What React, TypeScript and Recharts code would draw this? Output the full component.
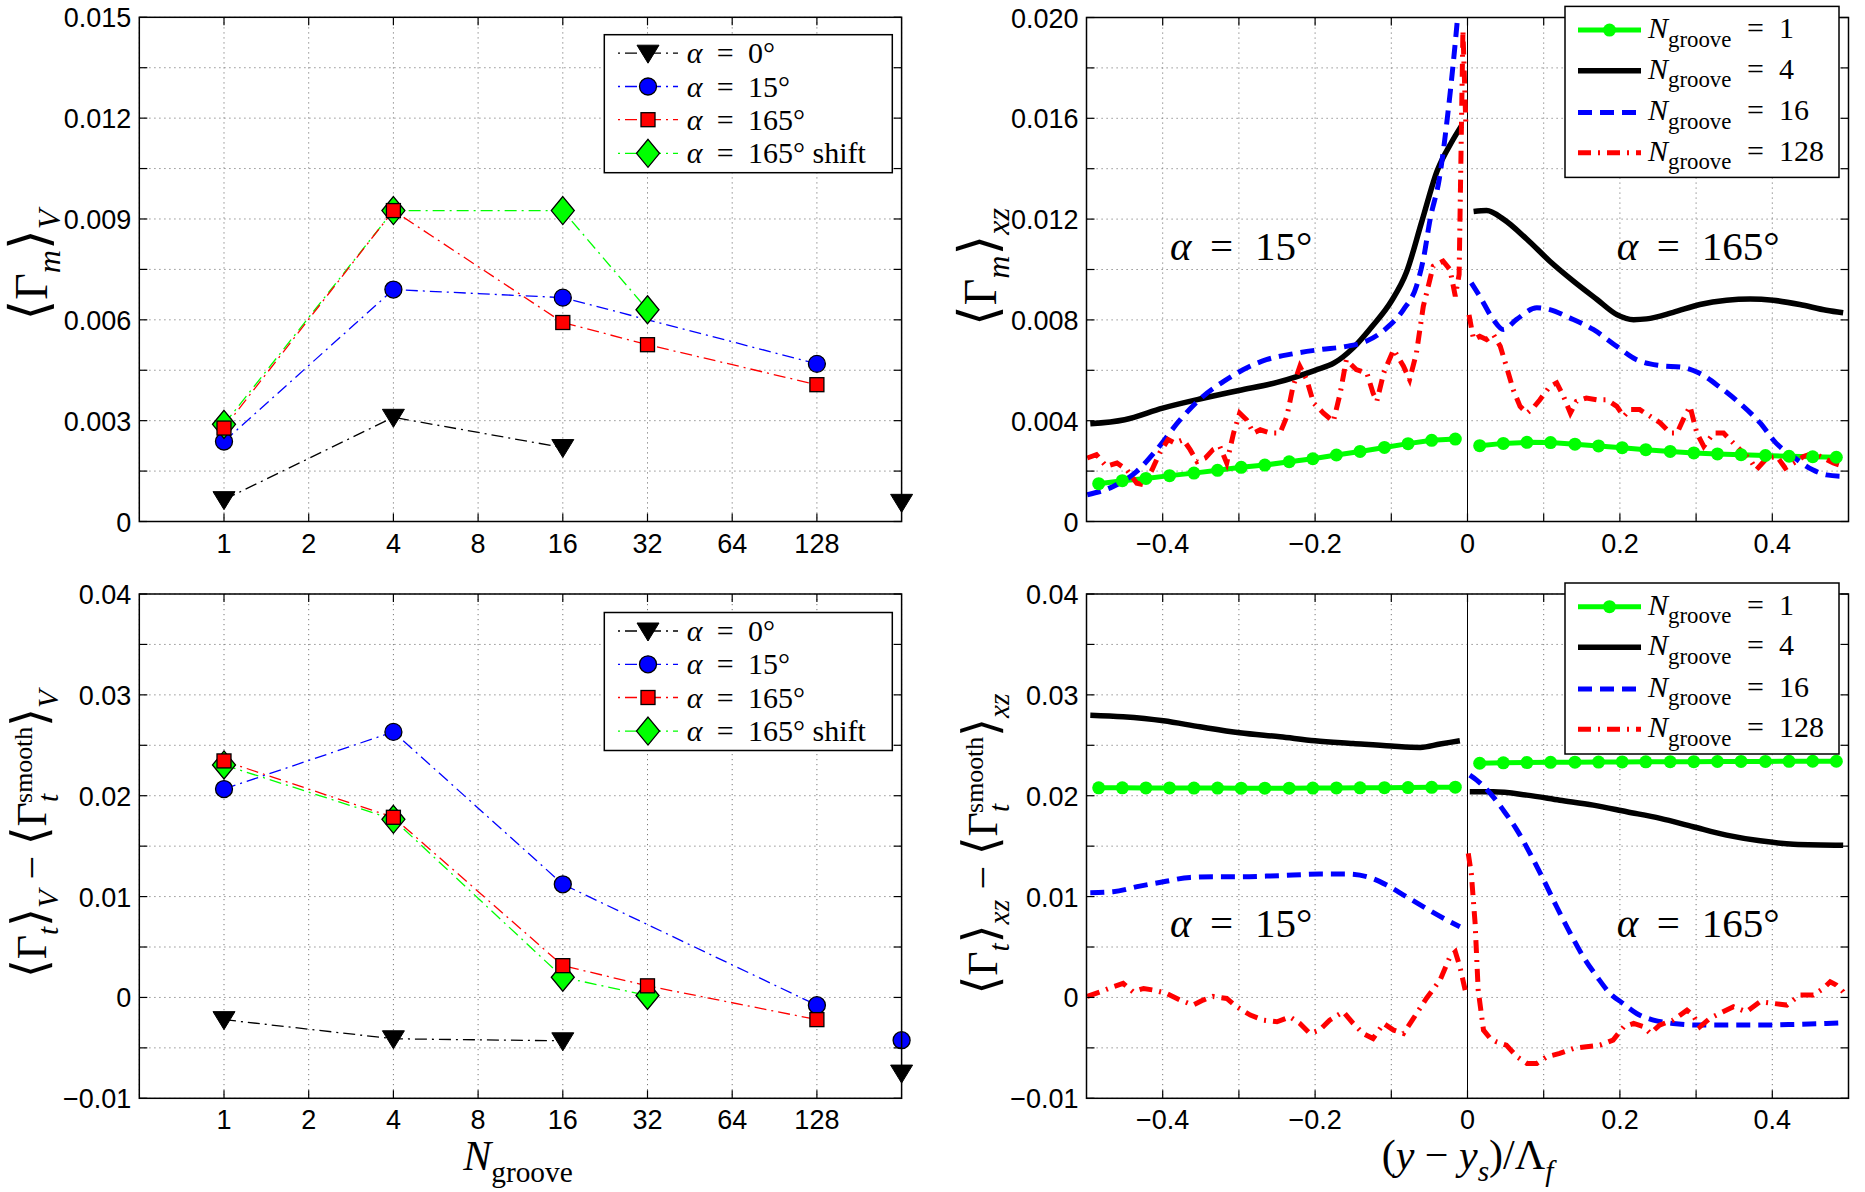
import React from 'react';
import { LineChart, Line, XAxis, YAxis, CartesianGrid, ReferenceLine } from 'recharts';

const SERIF = '"Liberation Serif", "Times New Roman", "DejaVu Serif", "DejaVu Sans", serif';
const SANS = '"Liberation Sans", Arial, Helvetica, sans-serif';

// ---------- left column: averages over the volume against N_groove
const grooveTicks = [1, 2, 4, 8, 16, 32, 64, 128];
const grooveTickLabels = ['1', '2', '4', '8', '16', '32', '64', '128'];

// <Gamma_m>_V
const mvN0 = [1, 4, 16, 64, 256];
const mvA0 = [0.00065, 0.0031, 0.0022, null, 0.00057];
const mvN15 = [1, 4, 16, 128];
const mvA15 = [0.00238, 0.0069, 0.00666, 0.00469];
const mvN165 = [1, 4, 16, 32, 128];
const mvA165 = [0.00278, 0.00925, 0.00592, 0.00526, 0.00407];
const mvNshift = [1, 4, 16, 32];
const mvAshift = [0.00289, 0.00925, 0.00925, 0.0063];

// <Gamma_t>_V - <Gamma_t^smooth>_V
const tvN0 = [1, 4, 16, 64, 256];
const tvA0 = [-0.0022, -0.0041, -0.0043, null, -0.0075];
const tvN15 = [1, 4, 16, 128, 192, 256];
const tvA15 = [0.02066, 0.02633, 0.01122, -0.00077, null, -0.00424];
const tvN165 = [1, 4, 16, 32, 128];
const tvA165 = [0.02345, 0.01786, 0.00315, 0.00115, -0.0022];
const tvNshift = [1, 4, 16, 32];
const tvAshift = [0.02305, 0.01766, 0.002, 0.00019];

const mvYTicks = [0, 0.0015, 0.003, 0.0045, 0.006, 0.0075, 0.009, 0.0105, 0.012, 0.0135, 0.015];
const mvYLabels = ['0', '', '0.003', '', '0.006', '', '0.009', '', '0.012', '', '0.015'];
const tYTicks = [-0.01, -0.005, 0, 0.005, 0.01, 0.015, 0.02, 0.025, 0.03, 0.035, 0.04];
const tYLabels = ['\u22120.01', '', '0', '', '0.01', '', '0.02', '', '0.03', '', '0.04'];

// ---------- right column: profiles across the span, (y - y_s)/Lambda_f
const posTicks = [-0.4, -0.3, -0.2, -0.1, 0, 0.1, 0.2, 0.3, 0.4];
const posLabels = ['\u22120.4', '', '\u22120.2', '', '0', '', '0.2', '', '0.4'];
const mxzYTicks = [0, 0.002, 0.004, 0.006, 0.008, 0.01, 0.012, 0.014, 0.016, 0.018, 0.02];
const mxzYLabels = ['0', '', '0.004', '', '0.008', '', '0.012', '', '0.016', '', '0.020'];

const n1XL = [-0.484, -0.453, -0.422, -0.391, -0.359, -0.328, -0.297, -0.266, -0.234, -0.203, -0.172, -0.141, -0.109, -0.078, -0.047, -0.016];
const n1XR = [0.016, 0.047, 0.078, 0.109, 0.141, 0.172, 0.203, 0.234, 0.266, 0.297, 0.328, 0.359, 0.391, 0.422, 0.453, 0.484];

// <Gamma_m>_xz
const mxzN1L = [0.0015, 0.00162, 0.00171, 0.00182, 0.00192, 0.00203, 0.00215, 0.00224, 0.00237, 0.00249, 0.00264, 0.00278, 0.00294, 0.00309, 0.00322, 0.00327];
const mxzN1R = [0.00301, 0.0031, 0.00314, 0.00313, 0.00307, 0.003, 0.00293, 0.00285, 0.00278, 0.00272, 0.00268, 0.00265, 0.00262, 0.00259, 0.00257, 0.00255];

const mxzN4XL = [-0.495, -0.45, -0.4, -0.35, -0.3, -0.25, -0.2, -0.175, -0.15, -0.125, -0.1, -0.08, -0.06, -0.04, -0.02, -0.008];
const mxzN4L = [0.00388, 0.00404, 0.0045, 0.00487, 0.0052, 0.00552, 0.006, 0.00629, 0.00689, 0.00775, 0.00874, 0.0099, 0.0119, 0.0139, 0.0151, 0.0157];
const mxzN4XR = [0.008, 0.025, 0.047, 0.078, 0.108, 0.139, 0.17, 0.196, 0.218, 0.235, 0.27, 0.305, 0.34, 0.371, 0.401, 0.436, 0.471, 0.493];
const mxzN4R = [0.0123, 0.01234, 0.012, 0.0112, 0.01033, 0.00954, 0.00881, 0.00821, 0.00801, 0.00804, 0.0083, 0.00861, 0.00878, 0.00883, 0.00878, 0.00861, 0.00838, 0.00828];

const mxzN16XL = [-0.499, -0.465, -0.434, -0.408, -0.377, -0.347, -0.32, -0.294, -0.264, -0.228, -0.194, -0.159, -0.133, -0.106, -0.084, -0.067, -0.058, -0.049, -0.037, -0.025, -0.013, -0.006];
const mxzN16L = [0.00106, 0.00139, 0.00199, 0.00285, 0.00404, 0.00497, 0.00556, 0.00603, 0.00642, 0.00666, 0.00682, 0.00695, 0.00715, 0.00768, 0.00841, 0.00934, 0.0104, 0.012, 0.0136, 0.0164, 0.02, 0.0225];
const mxzN16XR = [0.005, 0.016, 0.034, 0.047, 0.064, 0.091, 0.108, 0.134, 0.165, 0.196, 0.222, 0.252, 0.282, 0.304, 0.33, 0.357, 0.384, 0.405, 0.427, 0.453, 0.471, 0.493];
const mxzN16R = [0.00947, 0.00894, 0.00801, 0.00762, 0.00801, 0.00848, 0.00841, 0.00808, 0.00762, 0.00695, 0.00642, 0.00619, 0.00612, 0.00589, 0.00536, 0.0047, 0.00391, 0.00311, 0.00258, 0.00205, 0.00185, 0.00179];

const mxzN128XL = [-0.499, -0.487, -0.474, -0.46, -0.447, -0.434, -0.425, -0.414, -0.404, -0.393, -0.384, -0.373, -0.364, -0.355, -0.344, -0.334, -0.325, -0.316, -0.307, -0.299, -0.29, -0.281, -0.272, -0.259, -0.246, -0.237, -0.229, -0.22, -0.211, -0.202, -0.189, -0.176, -0.167, -0.159, -0.146, -0.132, -0.124, -0.119, -0.11, -0.097, -0.084, -0.076, -0.067, -0.058, -0.045, -0.032, -0.023, -0.016, -0.011, -0.006, -0.002];
const mxzN128L = [0.00252, 0.00265, 0.00219, 0.00232, 0.00205, 0.00152, 0.00146, 0.00205, 0.00272, 0.00325, 0.00311, 0.00325, 0.00285, 0.00238, 0.00252, 0.00285, 0.00298, 0.00232, 0.00351, 0.0043, 0.00404, 0.00351, 0.00364, 0.00351, 0.00351, 0.00417, 0.00536, 0.00616, 0.00563, 0.0047, 0.0043, 0.00397, 0.0051, 0.00642, 0.00603, 0.00589, 0.0051, 0.00477, 0.00589, 0.00682, 0.00616, 0.00563, 0.00669, 0.00854, 0.01013, 0.01033, 0.01, 0.00894, 0.0098, 0.0195, 0.0156];
const mxzN128XR = [0.002, 0.008, 0.016, 0.025, 0.034, 0.043, 0.051, 0.06, 0.069, 0.078, 0.086, 0.095, 0.108, 0.117, 0.126, 0.135, 0.143, 0.156, 0.17, 0.183, 0.196, 0.205, 0.213, 0.226, 0.24, 0.253, 0.266, 0.275, 0.283, 0.292, 0.301, 0.31, 0.323, 0.336, 0.349, 0.362, 0.371, 0.379, 0.393, 0.406, 0.417, 0.428, 0.441, 0.454, 0.467, 0.48, 0.493];
const mxzN128R = [0.0082, 0.00722, 0.00735, 0.00722, 0.00742, 0.00695, 0.00616, 0.00523, 0.00457, 0.0043, 0.0045, 0.00483, 0.00536, 0.0055, 0.00497, 0.0043, 0.00477, 0.0049, 0.00483, 0.00483, 0.00457, 0.00417, 0.00444, 0.00444, 0.00417, 0.00391, 0.00351, 0.00351, 0.00404, 0.00457, 0.00351, 0.00298, 0.00351, 0.00351, 0.00311, 0.00272, 0.00245, 0.00205, 0.00252, 0.00258, 0.00212, 0.00232, 0.00258, 0.00272, 0.00252, 0.00232, 0.00219];

// <Gamma_t>_xz - <Gamma_t^smooth>_xz
const txzN1L = [0.02078, 0.02078, 0.02077, 0.02077, 0.02076, 0.02076, 0.02075, 0.02075, 0.02075, 0.02076, 0.02077, 0.02078, 0.0208, 0.02081, 0.02083, 0.02085];
const txzN1R = [0.02322, 0.02326, 0.02329, 0.02331, 0.02333, 0.02334, 0.02335, 0.02336, 0.02337, 0.02338, 0.02339, 0.0234, 0.0234, 0.02341, 0.02342, 0.02342];

const txzN4XL = [-0.495, -0.452, -0.399, -0.351, -0.299, -0.246, -0.2, -0.15, -0.1, -0.062, -0.036, -0.01];
const txzN4L = [0.02799, 0.02783, 0.02743, 0.02683, 0.02624, 0.02584, 0.02545, 0.02518, 0.02492, 0.02479, 0.02512, 0.02545];
const txzN4XR = [0.003, 0.034, 0.078, 0.121, 0.165, 0.209, 0.253, 0.296, 0.34, 0.384, 0.428, 0.493];
const txzN4R = [0.02039, 0.02039, 0.02006, 0.01956, 0.01907, 0.01841, 0.01775, 0.01692, 0.01609, 0.01553, 0.0152, 0.0151];

const txzN16XL = [-0.495, -0.465, -0.43, -0.399, -0.364, -0.334, -0.299, -0.264, -0.229, -0.194, -0.159, -0.132, -0.106, -0.08, -0.054, -0.027, -0.01];
const txzN16L = [0.01038, 0.01048, 0.01104, 0.01147, 0.0119, 0.01197, 0.01197, 0.01203, 0.01213, 0.01223, 0.01223, 0.01197, 0.01114, 0.00998, 0.00882, 0.00767, 0.00701];
const txzN16XR = [0.003, 0.012, 0.03, 0.047, 0.065, 0.082, 0.1, 0.117, 0.135, 0.152, 0.17, 0.187, 0.204, 0.222, 0.244, 0.27, 0.305, 0.34, 0.384, 0.428, 0.471, 0.493];
const txzN16R = [0.02204, 0.02155, 0.02022, 0.01857, 0.01659, 0.01428, 0.01163, 0.00899, 0.00634, 0.00403, 0.00205, 0.0004, -0.00059, -0.00159, -0.00225, -0.00258, -0.00274, -0.00274, -0.00274, -0.00268, -0.00258, -0.00251];

const txzN128XL = [-0.499, -0.482, -0.465, -0.452, -0.439, -0.425, -0.412, -0.395, -0.377, -0.36, -0.347, -0.334, -0.316, -0.303, -0.285, -0.268, -0.25, -0.233, -0.22, -0.207, -0.194, -0.181, -0.163, -0.15, -0.137, -0.124, -0.11, -0.097, -0.084, -0.071, -0.054, -0.036, -0.023, -0.016, -0.01, -0.003];
const txzN128L = [0.0001, 0.00056, 0.00106, 0.00139, 0.00056, 0.00089, 0.00073, 0.0004, -0.00026, -0.00076, -0.00026, 0.0001, -0.0001, -0.00093, -0.00175, -0.00225, -0.00241, -0.00192, -0.00258, -0.00357, -0.00324, -0.00225, -0.00142, -0.00258, -0.00357, -0.00407, -0.00258, -0.00324, -0.00357, -0.00208, -0.0001, 0.00172, 0.00403, 0.00453, 0.00304, 0.00073];
const txzN128XR = [0.001, 0.005, 0.01, 0.014, 0.021, 0.03, 0.038, 0.051, 0.065, 0.078, 0.091, 0.104, 0.121, 0.139, 0.156, 0.174, 0.191, 0.205, 0.218, 0.231, 0.24, 0.252, 0.27, 0.288, 0.296, 0.305, 0.318, 0.331, 0.349, 0.366, 0.384, 0.401, 0.419, 0.436, 0.454, 0.467, 0.476, 0.484, 0.493, 0.497];
const txzN128R = [0.01428, 0.01229, 0.00734, 0.00073, -0.00324, -0.00407, -0.0044, -0.00473, -0.00588, -0.00654, -0.00654, -0.00588, -0.00555, -0.00506, -0.00489, -0.00473, -0.00423, -0.00291, -0.00258, -0.00291, -0.00357, -0.00274, -0.00225, -0.00126, -0.00175, -0.00291, -0.00208, -0.00159, -0.00093, -0.00142, -0.00043, -0.00059, -0.00076, 0.00023, 0.00023, 0.00089, 0.00155, 0.00122, 0.00056, 0.0001];

// ---------- styles
type MarkerKind = 'tri' | 'circle' | 'square' | 'diamond' | 'dot';
const alphaStyles: { label: string; color: string; marker: MarkerKind }[] = [
  { label: '0°', color: '#000000', marker: 'tri' },
  { label: '15°', color: '#0000ff', marker: 'circle' },
  { label: '165°', color: '#ff0000', marker: 'square' },
  { label: '165° shift', color: '#00ff00', marker: 'diamond' },
];
const grooveStyles = [
  { label: '1', color: '#00ff00', width: 5, dash: undefined, dot: true },
  { label: '4', color: '#000000', width: 5.5, dash: undefined, dot: false },
  { label: '16', color: '#0000ff', width: 5, dash: '14 8', dot: false },
  { label: '128', color: '#ff0000', width: 5, dash: '13 7 2 7', dot: false },
];
const THIN_DASHDOT = '12 5 2 5';

type Pt = { x: number; y: number | null };
const zip = (xs: number[], ys: (number | null)[]): Pt[] => xs.map((x, i) => ({ x, y: ys[i] }));
const halves = (xl: number[], yl: number[], xr: number[], yr: number[]): Pt[] => [
  ...zip(xl, yl),
  { x: 0, y: null },
  ...zip(xr, yr),
];

function Marker({ kind, cx, cy, fill }: { kind: MarkerKind; cx: number; cy: number; fill: string }) {
  switch (kind) {
    case 'tri':
      return <polygon points={`${cx - 11},${cy - 8} ${cx + 11},${cy - 8} ${cx},${cy + 10}`} fill="#000" stroke="#000" strokeWidth={1} />;
    case 'circle':
      return <circle cx={cx} cy={cy} r={8.5} fill={fill} stroke="#000" strokeWidth={1.3} />;
    case 'square':
      return <rect x={cx - 7} y={cy - 7} width={14} height={14} fill={fill} stroke="#000" strokeWidth={1.3} />;
    case 'diamond':
      return <polygon points={`${cx},${cy - 14} ${cx + 11.5},${cy} ${cx},${cy + 14} ${cx - 11.5},${cy}`} fill={fill} stroke="#000" strokeWidth={1.3} />;
    default:
      return <circle cx={cx} cy={cy} r={6.5} fill={fill} />;
  }
}

const dotFn = (kind: MarkerKind, fill: string) => (p: any) => {
  const ok = p.payload && p.payload.y != null && Number.isFinite(p.cx) && Number.isFinite(p.cy);
  if (!ok) return <g key={`e${p.index}`} />;
  return (
    <g key={`m${p.index}`}>
      <Marker kind={kind} cx={p.cx} cy={p.cy} fill={fill} />
    </g>
  );
};

const labelAt = (ticks: number[], labels: string[], v: number) => {
  const i = ticks.findIndex((t) => Math.abs(t - v) < 1e-9);
  return i >= 0 ? labels[i] : '';
};

const tickText = { fontFamily: SANS, fontSize: 27 };

const makeXTick = (ticks: number[], labels: string[], plotH: number) => (p: any) => {
  const label = labelAt(ticks, labels, p.payload.value);
  return (
    <g>
      <line x1={p.x} x2={p.x} y1={p.y} y2={p.y - 8} stroke="#000" strokeWidth={1.2} />
      <line x1={p.x} x2={p.x} y1={p.y - plotH} y2={p.y - plotH + 8} stroke="#000" strokeWidth={1.2} />
      {label ? (
        <text x={p.x} y={p.y + 31} textAnchor="middle" fill="#000" style={tickText}>
          {label}
        </text>
      ) : null}
    </g>
  );
};

const makeYTick = (ticks: number[], labels: string[], plotW: number) => (p: any) => {
  const label = labelAt(ticks, labels, p.payload.value);
  return (
    <g>
      <line x1={p.x} x2={p.x + 8} y1={p.y} y2={p.y} stroke="#000" strokeWidth={1.2} />
      <line x1={p.x + plotW} x2={p.x + plotW - 8} y1={p.y} y2={p.y} stroke="#000" strokeWidth={1.2} />
      {label ? (
        <text x={p.x - 8} y={p.y + 10} textAnchor="end" fill="#000" style={tickText}>
          {label}
        </text>
      ) : null}
    </g>
  );
};

type Series = { data: Pt[]; color: string; width: number; dash?: string; marker?: MarkerKind; fill?: string; curve?: 'linear' | 'monotone' };

function Panel(props: {
  left: number; top: number; width: number; height: number;
  margin: { top: number; right: number; bottom: number; left: number };
  logX?: boolean; xDomain: number[]; xTicks: number[]; xLabels: string[];
  yDomain: number[]; yTicks: number[]; yLabels: string[];
  series: Series[]; zeroLine?: boolean; clipY?: boolean;
}) {
  const { left, top, width, height, margin } = props;
  const plotH = height - margin.top - margin.bottom - 40;
  const plotW = width - margin.left - margin.right - 60;
  return (
    <div style={{ position: 'absolute', left, top }}>
      <LineChart width={width} height={height} margin={margin}>
        <CartesianGrid stroke="#7a7a7a" strokeWidth={1} strokeDasharray="1.2 3.8" />
        <XAxis
          dataKey="x"
          type="number"
          scale={props.logX ? 'log' : 'auto'}
          domain={props.xDomain}
          ticks={props.xTicks}
          interval={0}
          height={40}
          tickSize={0}
          tickMargin={0}
          tickLine={false}
          axisLine={false}
          tick={makeXTick(props.xTicks, props.xLabels, plotH)}
        />
        <YAxis
          type="number"
          domain={props.yDomain}
          ticks={props.yTicks}
          interval={0}
          width={60}
          tickSize={0}
          tickMargin={0}
          tickLine={false}
          axisLine={false}
          allowDataOverflow={!!props.clipY}
          tick={makeYTick(props.yTicks, props.yLabels, plotW)}
        />
        {props.zeroLine ? <ReferenceLine x={0} stroke="#000" strokeWidth={1} /> : null}
        {props.series.map((s, i) => (
          <Line
            key={i}
            data={s.data}
            dataKey="y"
            type={s.curve ?? 'linear'}
            stroke={s.color}
            strokeWidth={s.width}
            strokeDasharray={s.dash}
            dot={s.marker ? dotFn(s.marker, s.fill ?? s.color) : false}
            activeDot={false}
            connectNulls={false}
            legendType="none"
            isAnimationActive={false}
          />
        ))}
      </LineChart>
    </div>
  );
}

type Part = { t: string; it?: boolean; sub?: boolean; sup?: boolean; dx?: number; x?: number; s?: number };
function MathText({ x, y, parts, size, anchor = 'start', rotate = false, subRatio = 0.7 }: {
  x: number; y: number; parts: Part[]; size: number; anchor?: 'start' | 'middle' | 'end'; rotate?: boolean; subRatio?: number;
}) {
  let shift = 0;
  const spans = parts.map((p, i) => {
    const target = p.sub ? size * 0.28 : p.sup ? -size * 0.34 : 0;
    const dy = target - shift;
    shift = target;
    const fs = (p.sub || p.sup ? size * subRatio : size) * (p.s ?? 1);
    return (
      <tspan
        key={i}
        x={p.x}
        dx={p.x == null ? p.dx : undefined}
        dy={dy !== 0 ? dy : undefined}
        style={{ fontSize: fs, fontStyle: p.it ? 'italic' : 'normal', fontFamily: SERIF }}
      >
        {p.t}
      </tspan>
    );
  });
  return (
    <text
      x={rotate ? 0 : x}
      y={rotate ? 0 : y}
      transform={rotate ? `translate(${x},${y}) rotate(-90)` : undefined}
      textAnchor={anchor}
      fill="#000"
      style={{ whiteSpace: 'pre', fontFamily: SERIF }}
    >
      {spans}
    </text>
  );
}

function AlphaLegend({ top }: { top: number }) {
  const rows = [18.5, 51.8, 85, 118.6];
  return (
    <g>
      <rect x={604.3} y={top} width={288} height={138} fill="#fff" stroke="#000" strokeWidth={1.5} />
      {alphaStyles.map((s, i) => {
        const cy = top + rows[i];
        return (
          <g key={s.label}>
            <line x1={618} x2={678} y1={cy} y2={cy} stroke={s.color} strokeWidth={1.3} strokeDasharray={THIN_DASHDOT} strokeDashoffset={17} />
            <Marker kind={s.marker} cx={648} cy={cy} fill={s.color} />
            <MathText x={686.7} y={cy + 10} size={30} parts={[{ t: 'α', it: true }, { t: '=', x: 716.7 }, { t: s.label, x: 748 }]} />
          </g>
        );
      })}
    </g>
  );
}

function GrooveLegend({ top }: { top: number }) {
  const rows = [23.7, 64.3, 106, 146.3];
  return (
    <g>
      <rect x={1565} y={top} width={274} height={171} fill="#fff" stroke="#000" strokeWidth={1.5} />
      {grooveStyles.map((s, i) => {
        const cy = top + rows[i];
        return (
          <g key={s.label}>
            <line x1={1578} x2={1641} y1={cy} y2={cy} stroke={s.color} strokeWidth={s.width} strokeDasharray={s.dash} />
            {s.dot ? <circle cx={1609.5} cy={cy} r={6.5} fill={s.color} /> : null}
            <MathText
              x={1648}
              y={cy + 8}
              size={30}
              subRatio={0.76}
              parts={[{ t: 'N', it: true }, { t: 'groove', sub: true }, { t: '=', x: 1747 }, { t: s.label, x: 1779 }]}
            />
          </g>
        );
      })}
    </g>
  );
}

function Annotations({ base }: { base: number }) {
  return (
    <g>
      <MathText x={1170} y={base} size={41} parts={[{ t: 'α', it: true }, { t: '=', x: 1210 }, { t: '15°', x: 1255 }]} />
      <MathText x={1616.7} y={base} size={41} parts={[{ t: 'α', it: true }, { t: '=', x: 1656.7 }, { t: '165°', x: 1701.7 }]} />
    </g>
  );
}

const avgLabel = (sub: string): Part[] => [
  { t: '⟨', s: 1.15 }, { t: 'Γ' }, { t: 'm', it: true, sub: true }, { t: '⟩', s: 1.15 }, { t: sub, it: true, sub: true },
];
const diffLabel = (sub: string): Part[] => [
  { t: '⟨', s: 1.15 }, { t: 'Γ' }, { t: 't', it: true, sub: true }, { t: '⟩', s: 1.15 }, { t: sub, it: true, sub: true },
  { t: ' − ' }, { t: '⟨', s: 1.15 }, { t: 'Γ' }, { t: 't', it: true, sub: true }, { t: 'smooth', sup: true, dx: -9, s: 0.88 },
  { t: '⟩', s: 1.15 }, { t: sub, it: true, sub: true },
];

export default function App() {
  const mvSeries: Series[] = [
    { data: zip(mvN0, mvA0), color: '#000', width: 1.3, dash: THIN_DASHDOT, marker: 'tri' },
    { data: zip(mvN15, mvA15), color: '#0000ff', width: 1.3, dash: THIN_DASHDOT, marker: 'circle' },
    { data: zip(mvNshift, mvAshift), color: '#00ff00', width: 1.3, dash: THIN_DASHDOT, marker: 'diamond' },
    { data: zip(mvN165, mvA165), color: '#ff0000', width: 1.3, dash: THIN_DASHDOT, marker: 'square' },
  ];
  const tvSeries: Series[] = [
    { data: zip(tvN0, tvA0), color: '#000', width: 1.3, dash: THIN_DASHDOT, marker: 'tri' },
    { data: zip(tvN15, tvA15), color: '#0000ff', width: 1.3, dash: THIN_DASHDOT, marker: 'circle' },
    { data: zip(tvNshift, tvAshift), color: '#00ff00', width: 1.3, dash: THIN_DASHDOT, marker: 'diamond' },
    { data: zip(tvN165, tvA165), color: '#ff0000', width: 1.3, dash: THIN_DASHDOT, marker: 'square' },
  ];
  const mxzSeries: Series[] = [
    { data: halves(n1XL, mxzN1L, n1XR, mxzN1R), color: '#00ff00', width: 5, marker: 'dot' },
    { data: halves(mxzN4XL, mxzN4L, mxzN4XR, mxzN4R), color: '#000', width: 5.5, curve: 'monotone' },
    { data: halves(mxzN16XL, mxzN16L, mxzN16XR, mxzN16R), color: '#0000ff', width: 5, dash: '14 8', curve: 'monotone' },
    { data: halves(mxzN128XL, mxzN128L, mxzN128XR, mxzN128R), color: '#ff0000', width: 5, dash: '13 7 2 7' },
  ];
  const txzSeries: Series[] = [
    { data: halves(n1XL, txzN1L, n1XR, txzN1R), color: '#00ff00', width: 5, marker: 'dot' },
    { data: halves(txzN4XL, txzN4L, txzN4XR, txzN4R), color: '#000', width: 5.5, curve: 'monotone' },
    { data: halves(txzN16XL, txzN16L, txzN16XR, txzN16R), color: '#0000ff', width: 5, dash: '14 8', curve: 'monotone' },
    { data: halves(txzN128XL, txzN128L, txzN128XR, txzN128R), color: '#ff0000', width: 5, dash: '13 7 2 7' },
  ];

  const leftM = { right: 28.4, left: 79.3 };
  const rightM = { right: 16.5, left: 96.5 };

  return (
    <div style={{ position: 'absolute', left: 0, top: 0, width: 1865, height: 1192, background: '#fff', overflow: 'hidden' }}>
      <Panel left={0} top={0} width={930} height={580} margin={{ top: 17.3, bottom: 18.5, ...leftM }}
        logX xDomain={[0.5, 256]} xTicks={grooveTicks} xLabels={grooveTickLabels}
        yDomain={[0, 0.015]} yTicks={mvYTicks} yLabels={mvYLabels} series={mvSeries} />
      <Panel left={0} top={560} width={930} height={632} margin={{ top: 34, bottom: 53.7, ...leftM }}
        logX xDomain={[0.5, 256]} xTicks={grooveTicks} xLabels={grooveTickLabels}
        yDomain={[-0.01, 0.04]} yTicks={tYTicks} yLabels={tYLabels} series={tvSeries} />
      <Panel left={930} top={0} width={935} height={580} margin={{ top: 17.5, bottom: 18.5, ...rightM }}
        xDomain={[-0.5, 0.5]} xTicks={posTicks} xLabels={posLabels}
        yDomain={[0, 0.02]} yTicks={mxzYTicks} yLabels={mxzYLabels} series={mxzSeries} zeroLine clipY />
      <Panel left={930} top={560} width={935} height={632} margin={{ top: 34, bottom: 53.7, ...rightM }}
        xDomain={[-0.5, 0.5]} xTicks={posTicks} xLabels={posLabels}
        yDomain={[-0.01, 0.04]} yTicks={tYTicks} yLabels={tYLabels} series={txzSeries} zeroLine clipY />

      <svg width={1865} height={1192} style={{ position: 'absolute', left: 0, top: 0, pointerEvents: 'none' }}>
        <rect x={139.3} y={17.3} width={762.3} height={504.2} fill="none" stroke="#000" strokeWidth={1.5} />
        <rect x={1086.5} y={17.5} width={762} height={504} fill="none" stroke="#000" strokeWidth={1.5} />
        <rect x={139.3} y={594} width={762.3} height={504.3} fill="none" stroke="#000" strokeWidth={1.5} />
        <rect x={1086.5} y={594} width={762} height={504.3} fill="none" stroke="#000" strokeWidth={1.5} />

        <AlphaLegend top={34.7} />
        <AlphaLegend top={612.5} />
        <GrooveLegend top={6.4} />
        <GrooveLegend top={583} />

        <Annotations base={260} />
        <Annotations base={936.7} />

        <MathText x={47} y={265} size={46} rotate anchor="middle" parts={avgLabel('V')} />
        <MathText x={46} y={834} size={42} rotate anchor="middle" parts={diffLabel('V')} />
        <MathText x={996} y={267} size={46} rotate anchor="middle" parts={avgLabel('xz')} />
        <MathText x={997} y={844} size={42} rotate anchor="middle" parts={diffLabel('xz')} />

        <MathText x={518} y={1170} size={42} anchor="middle" parts={[{ t: 'N', it: true }, { t: 'groove', sub: true }]} />
        <MathText x={1467.5} y={1169} size={42} anchor="middle"
          parts={[{ t: '(' }, { t: 'y', it: true }, { t: ' − ' }, { t: 'y', it: true }, { t: 's', it: true, sub: true }, { t: ')/Λ' }, { t: 'f', it: true, sub: true }]} />
      </svg>
    </div>
  );
}
